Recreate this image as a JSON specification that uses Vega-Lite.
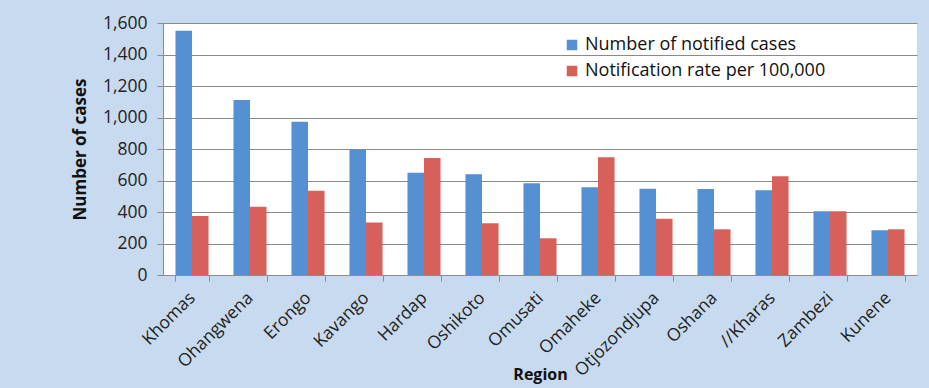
{
  "$schema": "https://vega.github.io/schema/vega-lite/v6.json",
  "width": 754,
  "height": 252,
  "autosize": {"type": "none"},
  "padding": {"left": 163, "top": 23, "right": 12, "bottom": 113},
  "background": "#c8daef",
  "data": {
    "values": [
      {"region": "Khomas", "series": "Number of notified cases", "value": 1551},
      {"region": "Khomas", "series": "Notification rate per 100,000", "value": 375},
      {"region": "Ohangwena", "series": "Number of notified cases", "value": 1111},
      {"region": "Ohangwena", "series": "Notification rate per 100,000", "value": 434},
      {"region": "Erongo", "series": "Number of notified cases", "value": 973},
      {"region": "Erongo", "series": "Notification rate per 100,000", "value": 535},
      {"region": "Kavango", "series": "Number of notified cases", "value": 798},
      {"region": "Kavango", "series": "Notification rate per 100,000", "value": 334},
      {"region": "Hardap", "series": "Number of notified cases", "value": 650},
      {"region": "Hardap", "series": "Notification rate per 100,000", "value": 743},
      {"region": "Oshikoto", "series": "Number of notified cases", "value": 639},
      {"region": "Oshikoto", "series": "Notification rate per 100,000", "value": 328},
      {"region": "Omusati", "series": "Number of notified cases", "value": 582},
      {"region": "Omusati", "series": "Notification rate per 100,000", "value": 233},
      {"region": "Omaheke", "series": "Number of notified cases", "value": 557},
      {"region": "Omaheke", "series": "Notification rate per 100,000", "value": 747},
      {"region": "Otjozondjupa", "series": "Number of notified cases", "value": 548},
      {"region": "Otjozondjupa", "series": "Notification rate per 100,000", "value": 357},
      {"region": "Oshana", "series": "Number of notified cases", "value": 546},
      {"region": "Oshana", "series": "Notification rate per 100,000", "value": 290},
      {"region": "//Kharas", "series": "Number of notified cases", "value": 538},
      {"region": "//Kharas", "series": "Notification rate per 100,000", "value": 627},
      {"region": "Zambezi", "series": "Number of notified cases", "value": 404},
      {"region": "Zambezi", "series": "Notification rate per 100,000", "value": 404},
      {"region": "Kunene", "series": "Number of notified cases", "value": 284},
      {"region": "Kunene", "series": "Notification rate per 100,000", "value": 290}
    ]
  },
  "config": {
    "font": "Open Sans",
    "view": {"stroke": null, "fill": "white"}
  },
  "mark": {"type": "bar"},
  "encoding": {
    "x": {
      "field": "region",
      "type": "nominal",
      "sort": ["Khomas", "Ohangwena", "Erongo", "Kavango", "Hardap", "Oshikoto", "Omusati", "Omaheke", "Otjozondjupa", "Oshana", "//Kharas", "Zambezi", "Kunene"],
      "scale": {"paddingInner": 0.43, "paddingOuter": 0.215},
      "axis": {
        "title": "Region",
        "titleFont": "Open Sans",
        "titleFontSize": 16,
        "titleFontWeight": "bold",
        "titleColor": "#111",
        "titleY": 91,
        "labelAngle": -45,
        "labelAlign": "right",
        "labelBaseline": "middle",
        "labelFontSize": 17.5,
        "labelColor": "#222",
        "labelPadding": 14,
        "labelOverlap": false,
        "tickBand": "extent",
        "tickSize": 6,
        "tickColor": "#8c8c8c",
        "domainColor": "#8c8c8c",
        "grid": false
      }
    },
    "xOffset": {
      "field": "series",
      "type": "nominal",
      "sort": ["Number of notified cases", "Notification rate per 100,000"]
    },
    "y": {
      "field": "value",
      "type": "quantitative",
      "scale": {"domain": [0, 1600], "nice": false},
      "axis": {
        "title": "Number of cases",
        "titleFont": "Open Sans",
        "titleFontSize": 17,
        "titleFontWeight": "bold",
        "titleColor": "#111",
        "titleX": -83,
        "titleBaseline": "middle",
        "values": [0, 200, 400, 600, 800, 1000, 1200, 1400, 1600],
        "format": ",.0f",
        "labelFontSize": 17.5,
        "labelColor": "#222",
        "labelPadding": 10,
        "tickSize": 6,
        "tickColor": "#8c8c8c",
        "domainColor": "#8c8c8c",
        "gridColor": "#8a8a8a",
        "gridOpacity": 1
      }
    },
    "color": {
      "field": "series",
      "type": "nominal",
      "sort": ["Number of notified cases", "Notification rate per 100,000"],
      "scale": {"range": ["#5591d2", "#d7605b"]},
      "legend": {
        "title": null,
        "orient": "none",
        "legendX": 400,
        "legendY": 13,
        "padding": 0,
        "symbolType": "square",
        "symbolSize": 110,
        "symbolStrokeWidth": 0,
        "labelFontSize": 18,
        "labelColor": "#111",
        "labelOffset": 4,
        "rowPadding": 8,
        "labelLimit": 400
      }
    }
  }
}
